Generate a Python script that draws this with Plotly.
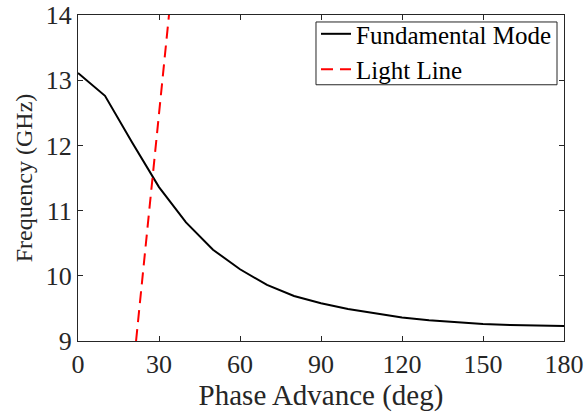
import plotly.graph_objects as go

# Data
phase_fund = [0, 10, 20, 30, 40, 50, 60, 70, 80, 90, 100, 110, 120, 130, 140, 150, 160, 170, 180]
freq_fund = [13.11, 12.76, 12.05, 11.36, 10.82, 10.40, 10.10, 9.86, 9.69, 9.58, 9.49, 9.42,
             9.36, 9.32, 9.29, 9.26, 9.245, 9.235, 9.23]
phase_light = [21.5, 33.7]
freq_light = [9, 14]

x_ticks = [0, 30, 60, 90, 120, 150, 180]
y_ticks = [9, 10, 11, 12, 13, 14]

FONT = "Liberation Serif, Times New Roman, serif"
TXT = "#262626"

fig = go.Figure()
fig.add_trace(go.Scatter(x=phase_fund, y=freq_fund, mode="lines", name="Fundamental Mode",
                         line=dict(color="black", width=2)))
fig.add_trace(go.Scatter(x=phase_light, y=freq_light, mode="lines", name="Light Line",
                         line=dict(color="#ff0000", width=2, dash="12px,7px")))

axis_common = dict(showline=True, linecolor=TXT, linewidth=1, mirror="ticks",
                   ticks="inside", ticklen=5, tickcolor=TXT, tickwidth=1,
                   showgrid=False, zeroline=False, automargin=False,
                   tickfont=dict(family=FONT, size=26, color=TXT))

fig.update_layout(
    width=588, height=417,
    margin=dict(l=78, r=24, t=14, b=76),
    paper_bgcolor="white", plot_bgcolor="white",
    xaxis=dict(range=[0, 180], tickvals=x_ticks, ticktext=[str(v) for v in x_ticks],
               title=dict(text="Phase Advance (deg)", font=dict(family=FONT, size=29, color=TXT), standoff=4),
               **axis_common),
    yaxis=dict(range=[9, 14], tickvals=y_ticks, ticktext=[str(v) for v in y_ticks],
               title=dict(text="Frequency (GHz)", font=dict(family=FONT, size=24, color=TXT), standoff=6),
               **axis_common),
    legend=dict(x=0.4897, y=1.009, xanchor="left", yanchor="top",
                bgcolor="rgba(0,0,0,0)", borderwidth=0,
                font=dict(family=FONT, size=25, color="black"),
                itemwidth=30, tracegroupgap=0),
    showlegend=True,
    shapes=[dict(type="rect", xref="paper", yref="paper",
                 x0=0.4897, x1=0.9856, y0=0.786, y1=0.9786,
                 fillcolor="white", line=dict(color=TXT, width=1), layer="below")],
)

fig.write_html("out.html", config={"displayModeBar": False},
               post_script="document.body.style.margin='0';")
